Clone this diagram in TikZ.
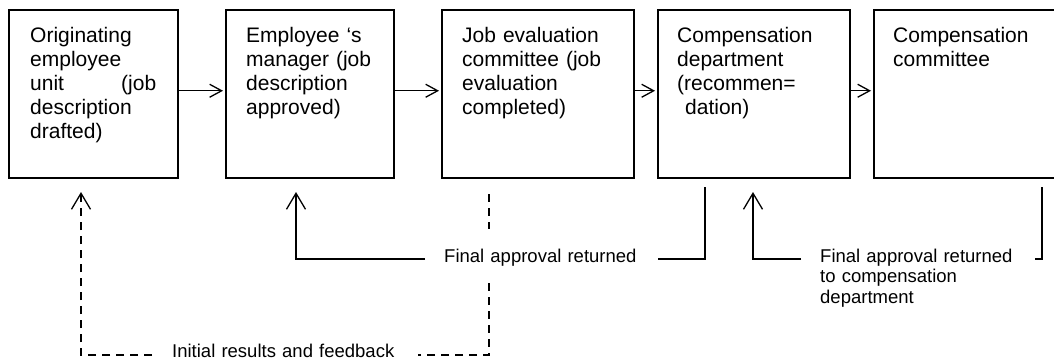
\documentclass[tikz,border=0pt]{standalone}
\usepackage{fontspec}
\setmainfont{Liberation Sans}
\usetikzlibrary{arrows.meta}
\begin{document}
\begin{tikzpicture}[x=1pt,y=-1pt,
  box/.style={draw, line width=1.5pt, minimum height=168pt, inner sep=0pt, anchor=north west},
  btext/.style={font=\fontsize{21}{24}\selectfont, text width=170pt, align=left, anchor=base west, inner sep=0pt},
  ltext/.style={font=\fontsize{18.5}{20.5}\selectfont, text width=250pt, align=left, anchor=base west, inner sep=0pt},
  flow/.style={line width=1.3pt, shorten >=2pt, -{Straight Barb[length=12pt,width=13pt]}},
  ret/.style={line width=1.3pt},
  upbarb/.style={-{Straight Barb[length=16pt,width=19pt]}},
  dline/.style={line width=1.3pt, dash pattern=on 8pt off 6pt}
]
\useasboundingbox (0,0) rectangle (1054,360);
\clip (0,0) rectangle (1054,360);

% boxes
\node[box, minimum width=169pt] (b1) at (8,9) {};
\node[box, minimum width=168pt] (b2) at (225,9) {};
\node[box, minimum width=192pt] (b3) at (441,9) {};
\node[box, minimum width=192pt] (b4) at (657,9) {};
\node[box, minimum width=192pt] (b5) at (873,9) {};

% box texts
\node[btext, text width=126pt] (t1) at (30,42) {Originating\\employee\\unit\hfill(job\\description\\drafted)};
\node[btext] (t2) at (246,42) {Employee ‘s\\manager (job\\description\\approved)};
\node[btext] (t3) at (462,42) {Job evaluation\\committee (job\\evaluation\\completed)};
\node[btext] (t4) at (677,42) {Compensation\\department\\(recommen=\\\hspace*{8pt}dation)};
\node[btext] (t5) at (893,42) {Compensation\\committee};

% forward flow
\draw[flow] ([yshift=3pt]b1.east) -- ([yshift=3pt]b2.west);
\draw[flow] ([yshift=3pt]b2.east) -- ([yshift=3pt]b3.west);
\draw[flow] ([yshift=3pt]b3.east) -- ([yshift=3pt]b4.west);
\draw[flow] ([yshift=3pt]b4.east) -- ([yshift=3pt]b5.west);

% labels
\node[ltext] (L1) at (444,262) {Final approval returned};
\node[ltext] (L2) at (820,262) {Final approval returned\\to compensation\\department};
\node[ltext] (L3) at (172,357.5) {Initial results and feedback};

% coordinates for return paths
\coordinate (s4) at (705,187);
\coordinate (s4c) at (705,259);
\coordinate (s4e) at (658,259);
\coordinate (e2s) at (425,259);
\coordinate (e2c) at (296,259);
\coordinate (e2) at (296,192);

\coordinate (s5) at (1042,187);
\coordinate (s5c) at (1042,259);
\coordinate (s5e) at (1035,259);
\coordinate (e4s) at (801,259);
\coordinate (e4c) at (753,259);
\coordinate (e4) at (753,192);

\coordinate (s3) at (489,194);
\coordinate (s3a) at (489,229);
\coordinate (s3b) at (489,283);
\coordinate (s3c) at (489,355);
\coordinate (s3e) at (418,355);
\coordinate (e1s) at (152,355);
\coordinate (e1c) at (81,355);
\coordinate (e1) at (81,192);

% final approval returned (to employee's manager)
\draw[ret] (s4) -- (s4c) -- (s4e);
\draw[ret, upbarb] (e2s) -- (e2c) -- (e2);

% final approval returned to compensation department
\draw[ret] (s5) -- (s5c) -- (s5e);
\draw[ret, upbarb] (e4s) -- (e4c) -- (e4);

% initial results and feedback (dashed)
\draw[dline] (s3) -- (s3a);
\draw[dline] (s3b) -- (s3c) -- (s3e);
\draw[dline, upbarb] (e1s) -- (e1c) -- (e1);
\end{tikzpicture}
\end{document}
